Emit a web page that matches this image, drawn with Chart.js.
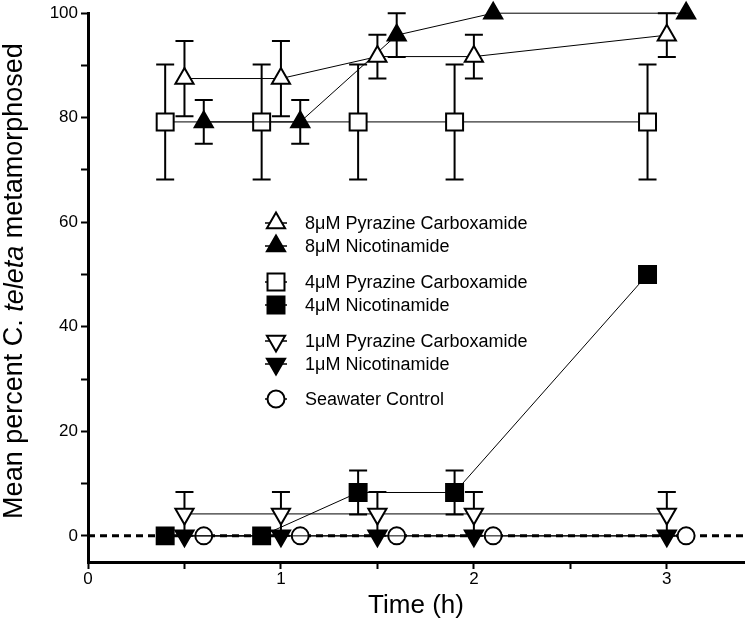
<!DOCTYPE html>
<html>
<head>
<meta charset="utf-8">
<script src="https://cdn.jsdelivr.net/npm/chart.js@4.4.1/dist/chart.umd.min.js"></script>
<style>
    html, body { margin: 0; padding: 0; background: #fff; }
</style>
</head>
<body>
<canvas id="js--chart" width="746" height="624"></canvas>
<script>
// time points (h), shifted a little per group so the markers don't sit on top of each other
const timesLeft = [0.4, 0.9, 1.4, 1.9, 2.9];
const timesMid = [0.5, 1, 1.5, 2, 3];
const timesRight = [0.6, 1.1, 1.6, 2.1, 3.1];

const pyrazine8 = [87.5, 87.5, 91.7, 91.7, 95.8];
const pyrazine8Err = [7.2, 7.2, 4.2, 4.2, 4.2];
const nicotinamide8 = [79.2, 79.2, 95.8, 100, 100];
const nicotinamide8Err = [4.2, 4.2, 4.2, 0, 0];
const pyrazine4 = [79.2, 79.2, 79.2, 79.2, 79.2];
const pyrazine4Err = [11, 11, 11, 11, 11];
const nicotinamide4 = [0, 0, 8.3, 8.3, 50];
const nicotinamide4Err = [0, 0, 4.2, 4.2, 0];
const pyrazine1 = [4.2, 4.2, 4.2, 4.2, 4.2];
const pyrazine1Err = [4.2, 4.2, 4.2, 4.2, 4.2];
const nicotinamide1 = [0, 0, 0, 0, 0];
const seawater = [0, 0, 0, 0, 0];

const zeroLineX = [0, 3.4];
const xLabels = [0, 1, 2, 3];
const yLabels = [0, 20, 40, 60, 80, 100];

const fontFamily = 'Arial, "Liberation Sans", Helvetica, sans-serif';

function toPoints(xs, ys){
    return xs.map(function(x, i){ return {x: x, y: ys[i]}; });
}

function series(label, xs, ys, errs, style, filled, rotation, radius){
    return {
        label: label,
        data: toPoints(xs, ys),
        errors: errs,
        showLine: true,
        borderColor: '#000',
        borderWidth: 1,
        pointStyle: style,
        pointRotation: rotation,
        pointRadius: radius,
        pointBorderWidth: 2,
        pointBorderColor: '#000',
        pointBackgroundColor: filled ? '#000' : '#fff',
        clip: false,
        order: 1
    };
}

const datasets = [
    series('8\u03BCM Pyrazine Carboxamide', timesMid, pyrazine8, pyrazine8Err, 'triangle', false, 0, 10.5),
    series('8\u03BCM Nicotinamide', timesRight, nicotinamide8, nicotinamide8Err, 'triangle', true, 0, 10.5),
    series('4\u03BCM Pyrazine Carboxamide', timesLeft, pyrazine4, pyrazine4Err, 'rect', false, 0, 12),
    series('4\u03BCM Nicotinamide', timesLeft, nicotinamide4, nicotinamide4Err, 'rect', true, 0, 12),
    series('1\u03BCM Pyrazine Carboxamide', timesMid, pyrazine1, pyrazine1Err, 'triangle', false, 180, 10.5),
    series('1\u03BCM Nicotinamide', timesMid, nicotinamide1, null, 'triangle', true, 180, 10.5),
    series('Seawater Control', timesRight, seawater, null, 'circle', false, 0, 8.5),
    {
        label: 'zero',
        data: toPoints(zeroLineX, [0, 0]),
        showLine: true,
        borderColor: '#000',
        borderWidth: 3,
        borderDash: [7, 5],
        pointRadius: 0,
        clip: false,
        order: 10
    }
];

const errorBars = {
    id: 'errorBars',
    beforeDatasetsDraw(chart){
        const ctx = chart.ctx;
        const yScale = chart.scales.y;
        chart.data.datasets.forEach(function(ds, i){
            if(!ds.errors) return;
            const meta = chart.getDatasetMeta(i);
            meta.data.forEach(function(pt, k){
                const e = ds.errors[k];
                if(!e) return;
                const v = ds.data[k].y;
                const top = yScale.getPixelForValue(v + e);
                const bot = yScale.getPixelForValue(v - e);
                ctx.save();
                ctx.strokeStyle = '#000';
                ctx.lineWidth = 2;
                ctx.beginPath();
                ctx.moveTo(pt.x, top);
                ctx.lineTo(pt.x, bot);
                ctx.moveTo(pt.x - 9, top);
                ctx.lineTo(pt.x + 9, top);
                ctx.moveTo(pt.x - 9, bot);
                ctx.lineTo(pt.x + 9, bot);
                ctx.stroke();
                ctx.restore();
            });
        });
    }
};

// legend drawn inside the plot, in pairs like the original
const legendBox = {
    id: 'legendBox',
    afterDraw(chart){
        const ctx = chart.ctx;
        const rowsY = [223, 246, 282, 305, 341, 364, 399];
        const markX = 276;
        ctx.save();
        for(let i = 0; i < 7; i++){
            const ds = chart.data.datasets[i];
            const y = rowsY[i];
            ctx.strokeStyle = '#000';
            ctx.lineWidth = 1.5;
            ctx.beginPath();
            ctx.moveTo(markX - 11, y);
            ctx.lineTo(markX + 11, y);
            ctx.stroke();
            ctx.fillStyle = ds.pointBackgroundColor;
            ctx.lineWidth = 2;
            Chart.helpers.drawPoint(ctx, {
                pointStyle: ds.pointStyle,
                rotation: ds.pointRotation,
                radius: ds.pointRadius,
                borderWidth: 2
            }, markX, y);
            ctx.fillStyle = '#000';
            ctx.font = '18px ' + fontFamily;
            ctx.textAlign = 'left';
            ctx.textBaseline = 'middle';
            ctx.fillText(ds.label, 305, y + 1);
        }
        ctx.restore();
    }
};

// y title has an italic species name, so it is drawn by hand
const yTitle = {
    id: 'yTitle',
    afterDraw(chart){
        const ctx = chart.ctx;
        const parts = [
            ['Mean percent C. ', 'normal'],
            ['teleta', 'italic'],
            [' metamorphosed', 'normal']
        ];
        ctx.save();
        ctx.translate(15, 281);
        ctx.rotate(-Math.PI / 2);
        ctx.fillStyle = '#000';
        ctx.textBaseline = 'middle';
        ctx.textAlign = 'left';
        let total = 0;
        parts.forEach(function(p){
            ctx.font = p[1] + ' 27px ' + fontFamily;
            total += ctx.measureText(p[0]).width;
        });
        let x = -total / 2;
        parts.forEach(function(p){
            ctx.font = p[1] + ' 27px ' + fontFamily;
            ctx.fillText(p[0], x, 0);
            x += ctx.measureText(p[0]).width;
        });
        ctx.restore();
    }
};

const config = {
    type: 'scatter',
    data: { datasets: datasets },
    options: {
        responsive: false,
        animation: false,
        events: [],
        layout: { autoPadding: false, padding: { top: 12, right: 2, left: 0, bottom: 0 } },
        plugins: {
            legend: { display: false },
            tooltip: { enabled: false }
        },
        scales: {
            x: {
                type: 'linear',
                min: 0,
                max: 3.4,
                afterFit: function(scale){ scale.height = 62; },
                border: { display: true, color: '#000', width: 3 },
                grid: {
                    drawOnChartArea: false,
                    drawTicks: true,
                    tickLength: 7,
                    tickWidth: 2,
                    tickColor: function(c){ return (c.tick.value * 2) % 1 === 0 ? '#000' : 'rgba(0,0,0,0)'; }
                },
                ticks: {
                    stepSize: 0.5,
                    autoSkip: false,
                    maxRotation: 0,
                    padding: 0,
                    color: '#000',
                    font: { family: fontFamily, size: 17 },
                    callback: function(v){ return xLabels.includes(v) ? String(v) : ''; }
                },
                title: {
                    display: true,
                    text: 'Time (h)',
                    color: '#000',
                    font: { family: fontFamily, size: 26 },
                    padding: { top: 0, bottom: 3 }
                }
            },
            y: {
                type: 'linear',
                min: -5,
                max: 100,
                afterFit: function(scale){ scale.width = 88; },
                border: { display: true, color: '#000', width: 3 },
                grid: {
                    drawOnChartArea: false,
                    drawTicks: true,
                    tickLength: 7,
                    tickWidth: 2,
                    tickColor: function(c){ return c.tick.value % 10 === 0 ? '#000' : 'rgba(0,0,0,0)'; }
                },
                ticks: {
                    stepSize: 10,
                    autoSkip: false,
                    padding: 3,
                    color: '#000',
                    font: { family: fontFamily, size: 17 },
                    callback: function(v){ return yLabels.includes(v) ? String(v) : ''; }
                },
                title: { display: false }
            }
        }
    },
    plugins: [errorBars, legendBox, yTitle]
};

const chart = new Chart(document.getElementById('js--chart'), config);
</script>
</body>
</html>
